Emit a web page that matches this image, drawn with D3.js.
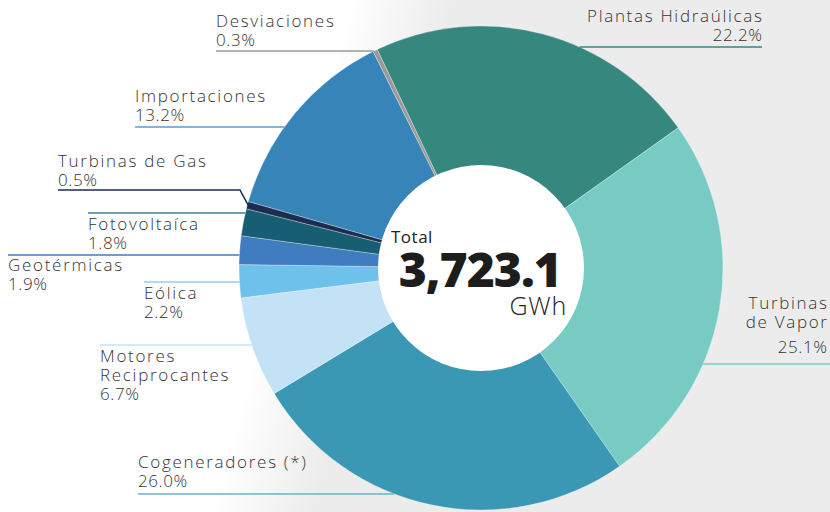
<!DOCTYPE html>
<html>
<head>
<meta charset="utf-8">
<script src="https://cdn.jsdelivr.net/npm/d3@7"></script>
<style>
  body { margin: 0; background: #fff; }
  svg { display: block; font-family: "Open Sans", "Noto Sans", sans-serif; }
</style>
</head>
<body>
<div class="svg-container"></div>
<script>
// data (share of generation, %)
const categories = ["Plantas Hidraúlicas", "Turbinas de Vapor", "Cogeneradores (*)", "Motores Reciprocantes",
  "Eólica", "Geotérmicas", "Fotovoltaíca", "Turbinas de Gas", "Importaciones", "Desviaciones"];
const shares = [22.2, 25.1, 26.0, 6.7, 2.2, 1.9, 1.8, 0.5, 13.2, 0.3];
const colors = ["#36877e", "#77cbc3", "#3a98b4", "#c3e2f5", "#6ec1ea", "#3f7cc0", "#175e72", "#1b2d50", "#3784b8", "#9a9a9a"];
const lineColors = ["#36877e", "#77cbc3", "#6ab3c8", "#c3e2f5", "#8fd0ef", "#3f7cc0", "#3a7f94", "#1b2d50", "#5a9bd0", "#9a9a9a"];
const total = "3,723.1";
const unit = "GWh";

// label layout: name lines, anchor x, first baseline, leader y
const labelLayout = [
  {lines: ["Plantas Hidraúlicas"], x: 762, y: 22, ly: 47, anchor: "end"},
  {lines: ["Turbinas", "de Vapor"], x: 827, y: 309, ly: 364, anchor: "end", pctGap: 25},
  {lines: ["Cogeneradores (*)"], x: 138, y: 468, ly: 494, anchor: "start"},
  {lines: ["Motores", "Reciprocantes"], x: 100, y: 362, ly: 345, anchor: "start"},
  {lines: ["Eólica"], x: 144, y: 299, ly: 282, anchor: "start"},
  {lines: ["Geotérmicas"], x: 8, y: 271, ly: 255, anchor: "start"},
  {lines: ["Fotovoltaíca"], x: 88, y: 230, ly: 213, anchor: "start"},
  {lines: ["Turbinas de Gas"], x: 58, y: 167, ly: 190, anchor: "start", elbow: 240},
  {lines: ["Importaciones"], x: 135, y: 102, ly: 127, anchor: "start"},
  {lines: ["Desviaciones"], x: 216, y: 27, ly: 51, anchor: "start"}
];

const w = 830, h = 512;
const cx = 481, cy = 268;
const outerR = 242, innerR = 103;
const f = d3.format(".1f");

const svg = d3.select(".svg-container").append("svg")
  .attr("width", w).attr("height", h).attr("viewBox", `0 0 ${w} ${h}`);

// background: white on the left, light grey on the right with soft diagonal edge
const defs = svg.append("defs");
const grad = defs.append("linearGradient").attr("id", "bg")
  .attr("gradientUnits", "userSpaceOnUse")
  .attr("x1", 285).attr("y1", 240).attr("x2", 380).attr("y2", 266);
grad.append("stop").attr("offset", 0).attr("stop-color", "#ffffff");
grad.append("stop").attr("offset", 1).attr("stop-color", "#ececec");
svg.append("rect").attr("width", w).attr("height", h).attr("fill", "url(#bg)");

const pie = d3.pie().sort(null).value(d => d)
  .startAngle(-25.4 * Math.PI / 180)
  .endAngle(-25.4 * Math.PI / 180 + 2 * Math.PI);
const arcs = pie(shares);
const arc = d3.arc().innerRadius(0).outerRadius(outerR);

const g = svg.append("g").attr("transform", `translate(${cx},${cy})`);
g.selectAll("path.slice").data(arcs).enter()
  .append("path").attr("class", "slice")
  .attr("d", arc)
  .attr("fill", (d, i) => colors[i])
  .attr("stroke", "rgba(255,255,255,0.6)")
  .attr("stroke-width", 0.5);

g.append("circle").attr("r", innerR).attr("fill", "#fff");

// leader lines end on the outer edge of the ring
function edgeX(y, side) {
  const dy = y - cy;
  const dx = Math.sqrt(Math.max(0, outerR * outerR - dy * dy));
  return side === "right" ? cx + dx : cx - dx;
}

const lineGen = d3.line();
labelLayout.forEach((l, i) => {
  const right = l.anchor === "end";
  let pts;
  if (l.elbow) {
    const mid = (arcs[i].startAngle + arcs[i].endAngle) / 2;
    const px = cx + (outerR - 1) * Math.sin(mid), py = cy - (outerR - 1) * Math.cos(mid);
    pts = [[l.x, l.ly], [l.elbow, l.ly], [px, py]];
  } else if (right) {
    pts = [[edgeX(l.ly, "right"), l.ly], [l.x > 800 ? w : l.x, l.ly]];
  } else {
    pts = [[l.x, l.ly], [edgeX(l.ly, "left"), l.ly]];
  }
  svg.append("path").attr("d", lineGen(pts))
    .attr("fill", "none").attr("stroke", lineColors[i]).attr("stroke-width", 1.5);

  const t = svg.append("text")
    .attr("x", l.x).attr("y", l.y)
    .attr("text-anchor", l.anchor)
    .attr("font-size", 17).attr("font-weight", 300).attr("fill", "#333");
  l.lines.forEach((s, k) => {
    t.append("tspan").attr("x", right ? l.x + 1.7 : l.x).attr("dy", k === 0 ? 0 : 19)
      .attr("letter-spacing", 1.7).text(s);
  });
  t.append("tspan").attr("x", right ? l.x + 0.6 : l.x).attr("dy", l.pctGap || 19)
    .attr("letter-spacing", 0.6).text(f(shares[i]) + "%");
});

// centre
svg.append("text").attr("x", 391).attr("y", 243)
  .attr("font-size", 17).attr("font-weight", 400).attr("fill", "#222")
  .attr("letter-spacing", 0.5).text("Total");
svg.append("text").attr("x", 561).attr("y", 287).attr("text-anchor", "end")
  .attr("font-size", 48).attr("font-weight", 800).attr("fill", "#1d1d1b")
  .attr("letter-spacing", -1).text(total);
svg.append("text").attr("x", 567).attr("y", 315).attr("text-anchor", "end")
  .attr("font-size", 25).attr("font-weight", 300).attr("fill", "#222")
  .attr("letter-spacing", 0.8).text(unit);
</script>
</body>
</html>
